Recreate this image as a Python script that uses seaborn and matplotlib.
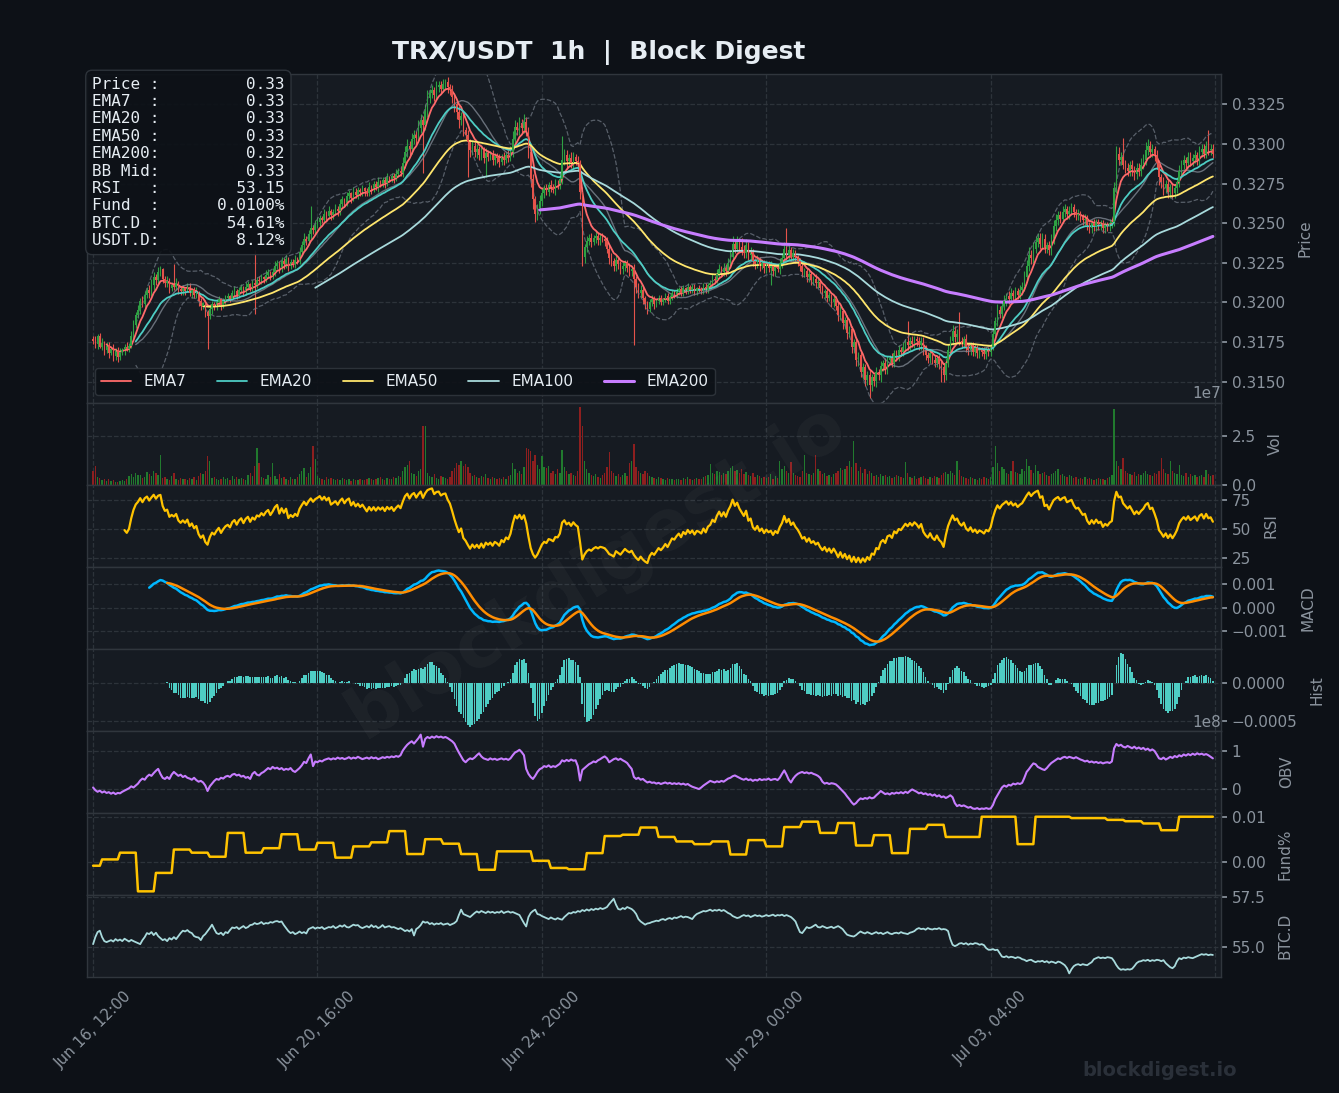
import numpy as np
import pandas as pd
import matplotlib
matplotlib.use("Agg")
import matplotlib.pyplot as plt
import seaborn as sns
from matplotlib.ticker import MultipleLocator, FuncFormatter

# ---------------- data ----------------
start_time = "2025-06-16 12:00"
title_text = "TRX/USDT  1h  |  Block Digest"

# close prices, in 1e-5 above 0.31
close_rel = [
    760, 735, 790, 720, 745, 700, 730, 680, 705, 660, 700, 655, 690, 700, 720, 705, 725, 790, 860, 920,
    955, 1010, 990, 1050, 1080, 1060, 1110, 1160, 1140, 1195, 1210, 1150, 1120, 1135, 1090, 1110, 1100, 1125, 1085, 1070,
    1090, 1075, 1100, 1060, 1080, 1050, 1065, 1010, 980, 995, 940, 915, 960, 990, 975, 1000, 1020, 985, 1010, 1030,
    1040, 1025, 1060, 1075, 1050, 1080, 1095, 1070, 1100, 1115, 1090, 1120, 1110, 1140, 1135, 1160, 1150, 1175, 1190, 1170,
    1195, 1230, 1250, 1215, 1260, 1240, 1275, 1230, 1255, 1245, 1270, 1260, 1320, 1360, 1400, 1385, 1430, 1470, 1455, 1490,
    1510, 1535, 1520, 1560, 1545, 1580, 1550, 1570, 1590, 1575, 1620, 1650, 1630, 1670, 1690, 1660, 1700, 1680, 1710, 1695,
    1720, 1705, 1690, 1730, 1715, 1745, 1730, 1760, 1750, 1770, 1755, 1790, 1780, 1800, 1785, 1810, 1830, 1820, 1880, 1950,
    1990, 1970, 2030, 2060, 2040, 2100, 2150, 2120, 2210, 2290, 2320, 2340, 2310, 2360, 2370, 2350, 2380, 2390, 2360, 2340,
    2300, 2250, 2200, 2150, 2180, 2090, 2060, 2010, 1960, 1990, 1950, 1970, 1930, 1960, 1910, 1945, 1920, 1935, 1900, 1925,
    1910, 1885, 1920, 1900, 1930, 1915, 1950, 2030, 2110, 2090, 2130, 2100, 2140, 2080, 1950, 1780, 1650, 1560, 1590, 1640,
    1690, 1720, 1700, 1740, 1730, 1710, 1750, 1745, 1780, 1900, 1930, 1890, 1910, 1880, 1920, 1895, 1880, 1700, 1290, 1350,
    1390, 1410, 1380, 1405, 1420, 1395, 1410, 1400, 1385, 1340, 1280, 1260, 1230, 1270, 1240, 1210, 1230, 1250, 1220, 1200,
    1210, 1150, 1100, 1060, 1080, 1030, 990, 960, 1000, 1020, 990, 1010, 1030, 1005, 1020, 1040, 1010, 1035, 1060, 1050,
    1070, 1085, 1060, 1090, 1075, 1100, 1080, 1095, 1070, 1090, 1085, 1075, 1100, 1080, 1110, 1120, 1150, 1140, 1180, 1210,
    1190, 1220, 1200, 1250, 1290, 1370, 1340, 1380, 1350, 1330, 1310, 1360, 1300, 1320, 1260, 1240, 1270, 1230, 1250, 1215,
    1240, 1220, 1230, 1200, 1225, 1210, 1250, 1280, 1340, 1300, 1330, 1290, 1310, 1280, 1260, 1230, 1190, 1200, 1160, 1180,
    1140, 1150, 1120, 1130, 1090, 1060, 1075, 1030, 1045, 1000, 1020, 980, 920, 945, 870, 890, 810, 830, 720, 750,
    640, 670, 560, 590, 510, 545, 480, 530, 505, 560, 540, 600, 620, 580, 640, 650, 620, 680, 660, 700,
    690, 720, 750, 730, 760, 740, 770, 755, 730, 760, 700, 670, 650, 680, 640, 620, 650, 610, 590, 540,
    620, 700, 760, 820, 780, 800, 760, 740, 770, 720, 700, 730, 690, 710, 680, 700, 690, 675, 700, 690,
    720, 800, 880, 950, 930, 980, 1010, 1040, 1020, 1060, 1040, 1070, 1050, 1080, 1100, 1160, 1230, 1300, 1280, 1340,
    1380, 1410, 1370, 1400, 1340, 1360, 1330, 1400, 1480, 1520, 1550, 1530, 1570, 1590, 1560, 1580, 1600, 1570, 1550, 1560,
    1540, 1520, 1530, 1490, 1470, 1500, 1480, 1510, 1490, 1500, 1470, 1490, 1480, 1500, 1510, 1720, 1940, 1900, 1920, 1870,
    1850, 1830, 1870, 1840, 1810, 1850, 1830, 1870, 1900, 1960, 1990, 1950, 1970, 1930, 1880, 1790, 1760, 1720, 1750, 1700,
    1730, 1690, 1720, 1760, 1830, 1870, 1900, 1880, 1920, 1890, 1910, 1930, 1900, 1950, 1970, 1940, 1990, 1960, 1970, 1940,
]
first_open_rel = 770

# upper / lower wick lengths, in 1e-4
wick_up = [
    2, 3, 1, 2, 3, 1, 2, 2, 1, 3, 1, 2, 2, 1, 2, 3, 2, 3, 3, 2,
    3, 2, 3, 2, 2, 3, 4, 3, 2, 3, 2, 1, 2, 3, 2, 2, 13, 3, 1, 2,
    2, 1, 2, 2, 1, 2, 3, 1, 2, 1, 2, 1, 3, 2, 1, 2, 2, 1, 2, 2,
    2, 1, 2, 3, 1, 2, 2, 1, 3, 2, 1, 2, 21, 2, 3, 2, 1, 3, 2, 1,
    2, 3, 2, 1, 3, 2, 3, 1, 2, 2, 3, 2, 3, 3, 4, 2, 3, 14, 2, 3,
    3, 2, 1, 3, 2, 3, 1, 2, 3, 2, 3, 2, 1, 3, 2, 1, 3, 2, 2, 1,
    2, 1, 2, 3, 1, 2, 2, 3, 1, 2, 2, 3, 1, 2, 2, 3, 2, 3, 4, 4,
    4, 3, 4, 3, 2, 5, 4, 3, 4, 5, 3, 3, 2, 4, 3, 3, 3, 2, 3, 2,
    3, 2, 3, 4, 2, 3, 2, 3, 2, 3, 2, 3, 2, 3, 2, 3, 2, 2, 3, 2,
    2, 3, 2, 3, 2, 3, 4, 5, 4, 3, 4, 3, 5, 3, 3, 2, 3, 2, 3, 4,
    3, 2, 3, 2, 3, 2, 3, 2, 4, 15, 4, 3, 3, 4, 3, 2, 3, 2, 3, 2,
    3, 2, 3, 2, 3, 2, 2, 3, 2, 3, 2, 3, 2, 3, 2, 2, 3, 2, 2, 3,
    2, 3, 2, 2, 3, 2, 1, 2, 2, 3, 2, 1, 2, 2, 1, 2, 2, 1, 2, 2,
    2, 1, 2, 2, 1, 2, 1, 2, 2, 1, 2, 1, 2, 2, 1, 2, 3, 2, 3, 3,
    2, 3, 2, 3, 4, 5, 3, 4, 3, 6, 3, 4, 2, 3, 2, 2, 3, 2, 2, 2,
    2, 2, 3, 2, 2, 2, 3, 3, 4, 13, 3, 2, 3, 2, 2, 2, 3, 2, 2, 3,
    2, 2, 3, 2, 2, 2, 1, 2, 2, 1, 2, 2, 2, 3, 2, 2, 3, 2, 2, 2,
    3, 2, 2, 3, 2, 2, 3, 2, 2, 3, 2, 3, 2, 3, 2, 2, 3, 2, 2, 3,
    2, 3, 2, 13, 2, 3, 2, 2, 3, 2, 2, 3, 2, 2, 2, 3, 2, 2, 2, 3,
    3, 4, 3, 4, 3, 3, 14, 2, 2, 3, 2, 2, 2, 3, 2, 2, 2, 3, 2, 2,
    2, 3, 3, 4, 3, 3, 4, 2, 3, 3, 2, 3, 2, 3, 3, 4, 4, 5, 3, 4,
    4, 3, 3, 4, 3, 2, 3, 3, 4, 4, 3, 3, 4, 3, 2, 3, 3, 2, 2, 3,
    2, 2, 3, 2, 2, 2, 3, 2, 2, 2, 2, 2, 2, 3, 2, 4, 5, 4, 3, 12,
    3, 3, 2, 3, 2, 3, 3, 4, 4, 5, 4, 3, 3, 2, 3, 2, 2, 3, 2, 2,
    2, 2, 3, 3, 4, 3, 3, 2, 3, 3, 3, 3, 2, 4, 3, 3, 3, 10, 3, 3,
]
wick_dn = [
    2, 2, 3, 1, 2, 3, 2, 3, 1, 3, 2, 3, 2, 2, 3, 1, 2, 1, 2, 2,
    2, 3, 2, 3, 2, 3, 2, 3, 3, 2, 3, 3, 2, 2, 3, 2, 2, 2, 3, 2,
    2, 3, 1, 2, 3, 2, 2, 3, 3, 2, 3, 21, 2, 3, 2, 2, 2, 3, 2, 2,
    2, 2, 1, 2, 3, 2, 2, 3, 2, 2, 2, 2, 18, 2, 2, 2, 3, 2, 2, 3,
    2, 3, 2, 3, 2, 3, 2, 3, 2, 2, 3, 2, 2, 2, 3, 2, 2, 3, 2, 2,
    2, 3, 2, 2, 3, 2, 3, 2, 2, 3, 2, 2, 3, 2, 2, 3, 2, 2, 3, 2,
    2, 3, 2, 2, 3, 2, 2, 3, 2, 2, 3, 2, 2, 2, 3, 2, 2, 2, 3, 3,
    3, 4, 3, 3, 4, 3, 3, 30, 3, 4, 3, 3, 4, 3, 3, 3, 2, 3, 4, 3,
    4, 5, 4, 5, 3, 4, 3, 22, 4, 3, 3, 4, 3, 3, 3, 12, 3, 2, 3, 3,
    3, 3, 2, 3, 2, 3, 2, 3, 3, 3, 3, 3, 3, 3, 4, 5, 6, 5, 4, 3,
    3, 3, 2, 3, 3, 2, 3, 3, 3, 3, 3, 4, 3, 3, 3, 3, 4, 5, 6, 4,
    3, 3, 3, 2, 3, 3, 3, 2, 3, 3, 4, 3, 3, 3, 3, 3, 3, 3, 3, 3,
    3, 42, 4, 3, 3, 4, 3, 3, 2, 2, 3, 2, 2, 2, 2, 2, 2, 2, 2, 2,
    2, 2, 2, 2, 2, 2, 2, 2, 2, 2, 2, 2, 2, 2, 2, 2, 2, 2, 2, 2,
    2, 2, 3, 2, 3, 3, 3, 2, 3, 3, 3, 3, 3, 3, 3, 3, 2, 3, 2, 3,
    3, 3, 11, 3, 3, 2, 3, 3, 3, 3, 3, 3, 3, 3, 3, 3, 3, 3, 3, 3,
    3, 3, 3, 3, 3, 3, 3, 3, 2, 3, 3, 3, 4, 3, 4, 4, 4, 3, 4, 4,
    4, 4, 3, 4, 4, 3, 8, 4, 3, 4, 3, 4, 3, 3, 3, 3, 3, 3, 3, 3,
    3, 3, 2, 3, 3, 2, 3, 3, 3, 3, 3, 3, 3, 3, 3, 3, 3, 3, 9, 4,
    3, 3, 3, 3, 3, 3, 3, 3, 3, 3, 3, 3, 3, 3, 3, 3, 3, 3, 3, 3,
    3, 2, 3, 3, 3, 3, 3, 3, 3, 3, 3, 3, 3, 3, 3, 3, 3, 3, 4, 3,
    3, 3, 3, 3, 3, 3, 3, 3, 3, 3, 3, 3, 3, 3, 3, 3, 3, 3, 3, 3,
    3, 3, 3, 3, 3, 3, 3, 3, 3, 3, 3, 3, 3, 3, 3, 3, 3, 3, 3, 3,
    3, 3, 3, 4, 4, 3, 3, 3, 3, 3, 3, 3, 3, 4, 4, 5, 4, 4, 3, 4,
    4, 3, 3, 3, 3, 3, 3, 3, 3, 3, 3, 3, 3, 3, 3, 3, 3, 3, 3, 3,
]

# volume, in 1e5
volume_e5 = [
    70, 97, 40, 35, 25, 30, 20, 28, 18, 22, 15, 12, 20, 25, 18, 30, 45, 55, 40, 60,
    50, 48, 35, 40, 65, 55, 45, 70, 60, 50, 150, 35, 40, 30, 25, 45, 60, 30, 25, 35,
    28, 30, 22, 35, 30, 40, 25, 45, 60, 55, 70, 148, 120, 35, 40, 30, 25, 28, 40, 30,
    35, 25, 45, 30, 40, 28, 35, 30, 25, 50, 60, 45, 95, 187, 110, 40, 35, 30, 50, 40,
    110, 45, 30, 55, 35, 40, 30, 25, 38, 30, 28, 40, 55, 70, 85, 40, 60, 90, 196, 130,
    45, 35, 30, 25, 40, 30, 35, 28, 25, 30, 22, 35, 30, 25, 28, 20, 30, 25, 22, 28,
    25, 22, 30, 35, 28, 25, 30, 35, 40, 30, 25, 35, 28, 30, 40, 35, 45, 40, 70, 90,
    100, 120, 60, 55, 45, 70, 80, 298, 300, 60, 45, 40, 55, 35, 30, 45, 40, 35, 30, 40,
    70, 85, 110, 100, 120, 95, 105, 90, 60, 45, 50, 40, 35, 45, 40, 55, 35, 30, 40, 35,
    30, 35, 28, 40, 30, 45, 50, 110, 80, 60, 70, 55, 90, 190, 185, 170, 120, 150, 100, 80,
    145, 90, 85, 95, 60, 70, 55, 80, 60, 175, 90, 70, 55, 60, 50, 45, 70, 400, 300, 120,
    80, 60, 50, 45, 55, 40, 35, 50, 60, 90, 165, 70, 60, 45, 55, 40, 50, 60, 45, 110,
    120, 210, 90, 70, 60, 55, 70, 60, 45, 40, 35, 30, 40, 35, 30, 25, 35, 28, 30, 25,
    30, 28, 25, 35, 30, 40, 28, 25, 30, 35, 28, 30, 40, 45, 50, 107, 60, 55, 70, 65,
    50, 60, 55, 70, 85, 95, 70, 75, 60, 80, 55, 65, 50, 45, 60, 40, 50, 45, 35, 40,
    35, 40, 55, 30, 45, 35, 120, 80, 95, 70, 60, 115, 60, 50, 45, 40, 70, 150, 60, 55,
    50, 60, 150, 80, 70, 55, 60, 45, 50, 40, 55, 60, 70, 85, 75, 80, 95, 120, 90, 224,
    110, 70, 90, 60, 80, 55, 70, 60, 45, 50, 40, 55, 45, 50, 40, 45, 35, 40, 50, 45,
    40, 35, 114, 60, 40, 35, 45, 30, 35, 40, 45, 35, 30, 40, 35, 45, 40, 35, 50, 60,
    65, 55, 70, 60, 50, 122, 75, 45, 40, 35, 30, 40, 35, 30, 25, 35, 30, 40, 35, 30,
    40, 90, 199, 110, 70, 90, 80, 60, 55, 70, 120, 65, 60, 55, 80, 70, 130, 95, 75, 60,
    100, 70, 55, 60, 65, 50, 45, 55, 60, 70, 80, 50, 55, 45, 40, 50, 45, 35, 40, 30,
    35, 30, 40, 28, 35, 30, 25, 30, 35, 28, 30, 25, 35, 40, 50, 386, 120, 95, 80, 136,
    70, 60, 55, 50, 65, 45, 55, 50, 60, 70, 55, 50, 45, 60, 55, 70, 136, 80, 60, 55,
    120, 70, 60, 55, 100, 50, 45, 60, 40, 55, 45, 50, 40, 45, 50, 40, 77, 55, 45, 50,
]

# BTC dominance, in 0.01 %
btcd_e2 = [
    5515, 5550, 5575, 5582, 5550, 5530, 5525, 5530, 5535, 5528, 5540, 5532, 5538, 5530, 5542, 5535, 5528, 5536, 5530, 5525,
    5520, 5515, 5535, 5550, 5570, 5565, 5575, 5560, 5572, 5555, 5545, 5535, 5540, 5530, 5545, 5538, 5550, 5540, 5555, 5570,
    5582, 5578, 5585, 5575, 5570, 5555, 5550, 5548, 5535, 5555, 5565, 5580, 5595, 5612, 5590, 5570, 5565, 5572, 5560, 5575,
    5570, 5585, 5598, 5595, 5600, 5590, 5598, 5605, 5595, 5600, 5610, 5612, 5620, 5615, 5618, 5625, 5615, 5620, 5618, 5625,
    5622, 5628, 5630, 5625, 5628, 5610, 5595, 5580, 5570, 5575, 5565, 5570, 5578, 5570, 5575, 5568, 5590, 5595, 5600, 5592,
    5598, 5595, 5600, 5590, 5595, 5600, 5598, 5605, 5595, 5600, 5608, 5602, 5610, 5600, 5598, 5605, 5612, 5608, 5610, 5600,
    5595, 5600, 5605, 5598, 5610, 5600, 5605, 5595, 5600, 5610, 5598, 5602, 5605, 5598, 5600, 5595, 5590, 5595, 5588, 5580,
    5585, 5578, 5590, 5558, 5590, 5598, 5610, 5628, 5622, 5625, 5615, 5620, 5612, 5618, 5615, 5620, 5612, 5615, 5618, 5610,
    5615, 5620, 5630, 5660, 5687, 5665, 5660, 5655, 5650, 5660, 5670, 5678, 5672, 5680, 5675, 5670, 5678, 5672, 5676, 5670,
    5675, 5672, 5680, 5670, 5675, 5678, 5672, 5675, 5670, 5665, 5660, 5640, 5620, 5603, 5650, 5670, 5680, 5687, 5665, 5662,
    5655, 5650, 5645, 5640, 5648, 5642, 5638, 5645, 5640, 5637, 5650, 5660, 5670, 5668, 5675, 5672, 5680, 5676, 5685, 5680,
    5688, 5682, 5690, 5685, 5692, 5688, 5695, 5690, 5694, 5700, 5715, 5728, 5741, 5712, 5690, 5687, 5695, 5690, 5700, 5695,
    5690, 5680, 5665, 5640, 5628, 5620, 5612, 5618, 5620, 5625, 5628, 5632, 5630, 5637, 5640, 5635, 5642, 5645, 5640, 5648,
    5645, 5650, 5655, 5648, 5652, 5650, 5645, 5640, 5655, 5665, 5670, 5675, 5680, 5678, 5682, 5687, 5680, 5685, 5682, 5687,
    5680, 5685, 5678, 5670, 5665, 5655, 5650, 5645, 5648, 5655, 5660, 5655, 5658, 5650, 5655, 5660, 5655, 5658, 5652, 5655,
    5660, 5655, 5658, 5662, 5655, 5660, 5658, 5662, 5655, 5660, 5655, 5650, 5640, 5628, 5600, 5575, 5570, 5585, 5600, 5595,
    5598, 5605, 5612, 5600, 5598, 5605, 5600, 5595, 5598, 5602, 5595, 5600, 5605, 5598, 5590, 5575, 5562, 5558, 5555, 5553,
    5560, 5570, 5578, 5572, 5568, 5575, 5570, 5565, 5570, 5575, 5568, 5572, 5565, 5570, 5575, 5568, 5565, 5570, 5572, 5568,
    5575, 5570, 5568, 5565, 5572, 5575, 5580, 5590, 5595, 5590, 5592, 5587, 5595, 5590, 5588, 5592, 5590, 5595, 5588, 5590,
    5588, 5580, 5540, 5512, 5505, 5510, 5518, 5520, 5515, 5520, 5512, 5518, 5515, 5520, 5518, 5512, 5515, 5510, 5495, 5487,
    5487, 5490, 5485, 5487, 5470, 5453, 5450, 5455, 5448, 5452, 5450, 5445, 5450, 5447, 5440, 5437, 5430, 5435, 5437, 5430,
    5425, 5430, 5428, 5432, 5425, 5430, 5422, 5428, 5425, 5420, 5428, 5425, 5418, 5410, 5395, 5369, 5390, 5405, 5412, 5415,
    5410, 5415, 5412, 5410, 5418, 5425, 5440, 5445, 5450, 5445, 5448, 5445, 5450, 5448, 5445, 5430, 5410, 5395, 5387, 5390,
    5387, 5390, 5388, 5392, 5405, 5420, 5428, 5430, 5435, 5432, 5437, 5430, 5435, 5432, 5437, 5435, 5430, 5435, 5420, 5410,
    5400, 5395, 5405, 5430, 5445, 5440, 5448, 5445, 5450, 5447, 5445, 5450, 5455, 5460, 5465, 5462, 5465, 5460, 5463, 5461,
]

# on-balance volume, in 1e6
obv_e6 = [
    5, -2, -6, -3, -8, -5, -9, -7, -11, -8, -12, -9, -10, -6, -3, 0, 3, 8, 5, 10,
    15, 23, 28, 25, 33, 38, 35, 42, 48, 53, 40, 30, 27, 32, 27, 38, 45, 40, 35, 38,
    32, 35, 30, 28, 25, 30, 24, 20, 22, 18, 10, -4, 8, 15, 22, 27, 25, 30, 28, 33,
    35, 32, 38, 40, 36, 38, 33, 35, 30, 32, 27, 40, 45, 38, 36, 42, 45, 50, 55, 52,
    58, 54, 56, 52, 55, 50, 53, 51, 55, 48, 45, 50, 55, 62, 71, 68, 80, 90, 60, 72,
    70, 74, 72, 76, 78, 80, 77, 80, 78, 82, 79, 81, 78, 80, 83, 79, 82, 80, 84, 81,
    78, 80, 82, 79, 83, 80, 82, 78, 80, 83, 81, 84, 82, 85, 83, 86, 84, 88, 100, 108,
    115, 120, 124, 118, 125, 132, 141, 110, 130, 135, 132, 136, 133, 137, 134, 136, 133, 135, 132, 128,
    124, 118, 106, 95, 85, 75, 70, 76, 80, 78, 82, 88, 93, 85, 80, 78, 76, 80, 77, 79,
    76, 78, 80, 77, 79, 76, 80, 88, 95, 98, 102, 96, 88, 53, 40, 32, 27, 35, 45, 52,
    55, 60, 58, 62, 57, 60, 58, 62, 66, 75, 72, 76, 73, 77, 74, 75, 60, 23, 50, 55,
    60, 65, 68, 72, 70, 75, 78, 82, 85, 80, 70, 74, 78, 80, 76, 79, 75, 72, 68, 60,
    53, 32, 27, 30, 25, 27, 22, 18, 20, 17, 18, 15, 17, 14, 16, 18, 15, 17, 14, 16,
    14, 16, 13, 15, 12, 14, 10, 7, 5, 3, 1, 5, 10, 14, 18, 22, 20, 18, 21, 19,
    22, 20, 24, 28, 30, 34, 36, 33, 30, 27, 25, 28, 24, 26, 22, 25, 23, 27, 24, 26,
    25, 28, 24, 26, 27, 24, 30, 40, 49, 38, 25, 18, 28, 35, 40, 43, 45, 42, 44, 41,
    43, 40, 38, 35, 30, 20, 15, 17, 14, 16, 15, 13, 8, 2, -4, -10, -18, -25, -33, -39,
    -35, -28, -23, -25, -22, -24, -20, -23, -21, -15, -10, -4, -8, -12, -10, -13, -9, -11, -8, -10,
    -7, -10, -6, -9, -4, 0, -3, -6, -10, -8, -12, -10, -14, -12, -16, -13, -18, -15, -20, -18,
    -22, -19, -15, -20, -35, -43, -40, -43, -41, -44, -47, -45, -49, -50, -48, -51, -49, -50, -48, -50,
    -49, -40, -25, -15, -5, 5, 10, 7, 12, 10, 15, 13, 16, 14, 17, 30, 45, 52, 60, 67,
    65, 58, 55, 52, 50, 55, 62, 68, 72, 76, 80, 78, 82, 84, 81, 84, 82, 80, 83, 80,
    77, 75, 72, 74, 70, 72, 69, 71, 68, 70, 67, 69, 70, 68, 72, 106, 117, 112, 115, 110,
    108, 112, 109, 106, 110, 105, 108, 104, 107, 102, 105, 100, 103, 99, 90, 80, 78, 82, 77, 80,
    84, 81, 86, 83, 88, 85, 90, 87, 91, 88, 92, 89, 93, 90, 92, 89, 91, 88, 84, 80,
]

# funding rate (%), one value per funding window (first window 4 h, then 8 h)
funding_blocks = [
    -0.0009, 0.0005, 0.0020, -0.0066, -0.0025, 0.0027, 0.0020, 0.0011, 0.0064, 0.0020,
    0.0030, 0.0061, 0.0027, 0.0042, 0.0009, 0.0034, 0.0043, 0.0068, 0.0017, 0.0050,
    0.0040, 0.0017, -0.0018, 0.0023, 0.0023, 0.0002, -0.0014, -0.0017, 0.0019, 0.0057,
    0.0060, 0.0076, 0.0055, 0.0045, 0.0039, 0.0045, 0.0016, 0.0048, 0.0034, 0.0077,
    0.0089, 0.0064, 0.0086, 0.0036, 0.0059, 0.0019, 0.0073, 0.0082, 0.0055, 0.0055,
    0.0100, 0.0100, 0.0039, 0.0100, 0.0100, 0.0097, 0.0097, 0.0093, 0.0090, 0.0085,
    0.0070, 0.0100, 0.0100,
]
funding_hours = [4] + [8] * 62

info_labels = ["Price", "EMA7", "EMA20", "EMA50", "EMA200", "BB Mid", "RSI", "Fund", "BTC.D", "USDT.D"]
info_values = ["0.33", "0.33", "0.33", "0.33", "0.32", "0.33", "53.15", "0.0100%", "54.61%", "8.12%"]

ema_spans = [7, 20, 50, 100, 200]
ema_colors = ["#ff6b6b", "#4ecdc4", "#ffe66d", "#a8dadc", "#c77dff"]
panel_labels = ["Price", "Vol", "RSI", "MACD", "Hist", "OBV", "Fund%", "BTC.D"]
label_pads = [9, 9, 9, 9, 9, 27, 9, 9]

# ---------------- derived series ----------------
n = len(close_rel)
for arr in (wick_up, wick_dn, volume_e5, btcd_e2, obv_e6):
    assert len(arr) == n, len(arr)
assert sum(funding_hours) == n

xs = np.arange(n)
close = 0.31 + np.array(close_rel) / 1e5
open_ = np.r_[0.31 + first_open_rel / 1e5, close[:-1]]
high = np.maximum(open_, close) + np.array(wick_up) * 1e-4
low = np.minimum(open_, close) - np.array(wick_dn) * 1e-4
volume = np.array(volume_e5) * 1e5
btcd = np.array(btcd_e2) / 100.0
obv = np.array(obv_e6) * 1e6
funding = np.repeat(funding_blocks, funding_hours)
dates = pd.date_range(start_time, periods=n, freq="h")

cs = pd.Series(close)
emas = [cs.ewm(span=s, adjust=False, min_periods=s).mean() for s in ema_spans]
bb_mid = cs.rolling(20).mean()
bb_std = cs.rolling(20).std()
bb_up = bb_mid + 2 * bb_std
bb_lo = bb_mid - 2 * bb_std
delta = cs.diff()
gain = delta.clip(lower=0).ewm(alpha=1 / 14, adjust=True, min_periods=14).mean()
loss = (-delta.clip(upper=0)).ewm(alpha=1 / 14, adjust=True, min_periods=14).mean()
rsi = 100 - 100 / (1 + gain / loss)
ema12 = cs.ewm(span=12, adjust=False, min_periods=12).mean()
ema26 = cs.ewm(span=26, adjust=False, min_periods=26).mean()
macd = ema12 - ema26
signal = macd.ewm(span=9, adjust=False, min_periods=9).mean()
hist = macd - signal

# ---------------- style ----------------
BG = "#0d1117"
PANEL = "#161b22"
GRIDC = "#30363d"
TXT = "#8b949e"
UP = "#2ea043"
DN = "#e5534b"
VUP = "#217a2e"
VDN = "#8e1f1f"

sns.set_theme(style="dark", rc={"axes.facecolor": PANEL, "figure.facecolor": BG})
plt.rcParams["font.family"] = ["DejaVu Sans"]
plt.rcParams["axes.edgecolor"] = GRIDC
plt.rcParams["xtick.color"] = TXT
plt.rcParams["ytick.color"] = TXT
plt.rcParams["axes.labelcolor"] = TXT

fig = plt.figure(figsize=(13.39, 10.93), dpi=100, facecolor=BG)
gs = fig.add_gridspec(8, 1, height_ratios=[4, 1, 1, 1, 1, 1, 1, 1], hspace=0,
                      left=0.065, right=0.912, top=0.932, bottom=0.106)
axes = [fig.add_subplot(gs[0])]
for i in range(1, 8):
    axes.append(fig.add_subplot(gs[i], sharex=axes[0]))


def sline(ax, y, color, lw, label=None, ls="-", alpha=1.0):
    sns.lineplot(x=xs, y=np.asarray(y, dtype=float), ax=ax, color=color, linewidth=lw,
                 linestyle=ls, alpha=alpha, label=label, estimator=None, errorbar=None)


# ---- price panel ----
ax = axes[0]
up = close >= open_
ccol = np.where(up, UP, DN)
ax.vlines(xs, low, high, colors=ccol, linewidth=0.8, zorder=2)
body = np.maximum(np.abs(close - open_), 0.000012)
ax.bar(xs, body, bottom=np.minimum(open_, close), width=0.7, color=ccol, linewidth=0, zorder=3)
sline(ax, bb_up, "#6e7681", 0.9, ls="--", alpha=0.75)
sline(ax, bb_lo, "#6e7681", 0.9, ls="--", alpha=0.75)
sline(ax, bb_mid, "#7d8590", 1.0, alpha=0.8)
for span, col, e in zip(ema_spans, ema_colors, emas):
    sline(ax, e, col, 2.2 if span == 200 else 1.3, label=f"EMA{span}")
ax.set_ylim(0.31368, 0.3344)
handles, labels = ax.get_legend_handles_labels()
leg = ax.legend(handles, labels, loc="lower left", ncol=5, fontsize=11, frameon=True,
                facecolor=BG, edgecolor=GRIDC, framealpha=0.9, labelcolor="#e6edf3")
for h in leg.legend_handles:
    h.set_alpha(1)

info = "\n".join(f"{l:<6}:{v:>13}" for l, v in zip(info_labels, info_values))
ax.text(0.0045, 0.993, info, transform=ax.transAxes, va="top", ha="left",
        family="DejaVu Sans Mono", fontsize=11.5, color="#e6edf3", zorder=20,
        bbox=dict(boxstyle="round,pad=0.4", fc=BG, ec=GRIDC, alpha=0.92))

# ---- volume ----
ax = axes[1]
ax.bar(xs, volume, width=0.6, color=np.where(up, VUP, VDN), linewidth=0)
ax.set_ylim(0, 4.2e7)

# ---- RSI ----
sline(axes[2], rsi, "#ffc300", 1.6)
axes[2].yaxis.set_major_locator(MultipleLocator(25))

# ---- MACD ----
sline(axes[3], macd, "#00b7ff", 1.8)
sline(axes[3], signal, "#ff8c00", 1.8)

# ---- Hist ----
axes[4].bar(xs, hist, width=0.75, color="#4ecdc4", linewidth=0)

# ---- OBV ----
sline(axes[5], obv, "#c77dff", 1.5)

# ---- Funding ----
sline(axes[6], funding, "#ffc300", 1.8)

# ---- BTC.D ----
sline(axes[7], btcd, "#a8dadc", 1.3)

# ---------------- axes styling ----------------
for i, ax in enumerate(axes):
    ax.set_facecolor(PANEL)
    ax.yaxis.tick_right()
    ax.yaxis.set_label_position("right")
    ax.yaxis.set_offset_position("right")
    ax.yaxis.get_offset_text().set_color(TXT)
    ax.yaxis.get_offset_text().set_fontsize(11)
    ax.set_ylabel(panel_labels[i], color=TXT, fontsize=11, labelpad=label_pads[i])
    ax.set_xlabel("")
    ax.grid(True, color=GRIDC, linestyle="--", linewidth=0.9, alpha=0.9)
    for sp in ax.spines.values():
        sp.set_color(GRIDC)
        sp.set_linewidth(1.0)
    ax.tick_params(axis="y", colors=TXT, labelsize=11, length=4, left=False, right=True)
    if i < 7:
        ax.tick_params(axis="x", labelbottom=False, length=0)
    if i > 0 and ax.get_legend() is not None:
        ax.get_legend().remove()

axes[0].set_xlim(-2.7, 502.7)
axes[-1].xaxis.set_major_locator(MultipleLocator(100))


def fmt_date(v, pos):
    k = int(round(v))
    if 0 <= k < n:
        return dates[k].strftime("%b %d, %H:%M")
    return ""


axes[-1].xaxis.set_major_formatter(FuncFormatter(fmt_date))
axes[-1].tick_params(axis="x", colors=TXT, labelsize=11, length=5, labelbottom=True)
plt.setp(axes[-1].get_xticklabels(), rotation=45, ha="center")

# ---------------- texts ----------------
fig.text(0.447, 0.952, title_text, ha="center", va="center", fontsize=18,
         fontweight="bold", color="#e6edf3")
fig.text(0.446, 0.478, "blockdigest.io", ha="center", va="center", fontsize=52,
         fontweight="bold", color="white", alpha=0.035, rotation=32, zorder=50)
fig.text(0.866, 0.021, "blockdigest.io", ha="center", va="center", fontsize=14,
         fontweight="bold", color="#2a3039")

fig.savefig("out.png", dpi=100, facecolor=BG)
